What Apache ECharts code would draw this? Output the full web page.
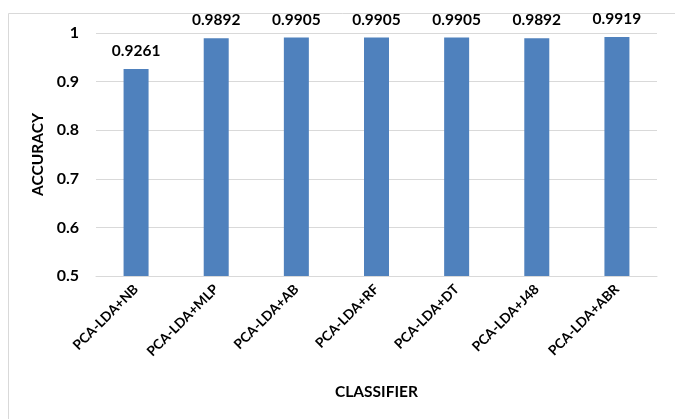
<!DOCTYPE html>
<html>
<head>
<meta charset="utf-8">
<script src="https://cdn.jsdelivr.net/npm/echarts@6/dist/echarts.min.js"></script>
<style>
  html, body { margin: 0; padding: 0; background: #fff; }
  #chart { width: 675px; height: 419px; }
</style>
</head>
<body>
<div id="chart"></div>
<script>
// Classifier accuracy for the PCA-LDA pipelines
const classifiers = ['PCA-LDA+NB', 'PCA-LDA+MLP', 'PCA-LDA+AB', 'PCA-LDA+RF', 'PCA-LDA+DT', 'PCA-LDA+J48', 'PCA-LDA+ABR'];
const accuracy = [0.9261, 0.9892, 0.9905, 0.9905, 0.9905, 0.9892, 0.9919];
const yTicks = [0.5, 0.6, 0.7, 0.8, 0.9, 1];

const FONT = 'Lato, "Open Sans", sans-serif';
const chart = echarts.init(document.getElementById('chart'), null, { renderer: 'canvas' });

chart.setOption({
  animation: false,
  backgroundColor: '#ffffff',
  graphic: [{
    type: 'rect',
    shape: { x: 8.5, y: 13.5, width: 700, height: 440 },
    style: { fill: 'none', stroke: '#d9d9d9', lineWidth: 1 },
    silent: true
  }],
  grid: { left: 96, right: 18, top: 33, bottom: 143, containLabel: false },
  xAxis: {
    type: 'category',
    data: classifiers,
    name: 'CLASSIFIER',
    nameLocation: 'middle',
    nameGap: 108,
    nameTextStyle: { fontFamily: FONT, fontWeight: 'bold', fontSize: 15.5, color: '#000' },
    axisLine: { show: true, lineStyle: { color: '#d9d9d9', width: 1 } },
    axisTick: { show: false },
    axisLabel: {
      rotate: 45, interval: 0, margin: 11,
      fontFamily: FONT, fontWeight: 'bold', fontSize: 13.6, color: '#000'
    }
  },
  yAxis: {
    type: 'value',
    min: yTicks[0],
    max: yTicks[yTicks.length - 1],
    interval: 0.1,
    name: 'ACCURACY',
    nameLocation: 'middle',
    nameGap: 43,
    nameRotate: 90,
    nameTextStyle: { fontFamily: FONT, fontWeight: 'bold', fontSize: 15.5, color: '#000' },
    axisLine: { show: false },
    axisTick: { show: false },
    splitLine: { lineStyle: { color: '#d9d9d9', width: 1 } },
    axisLabel: {
      margin: 17,
      fontFamily: FONT, fontWeight: 'bold', fontSize: 16, color: '#000',
      formatter: v => String(Math.round(v * 10) / 10)
    }
  },
  series: [{
    type: 'bar',
    data: accuracy,
    barWidth: 25,
    itemStyle: { color: '#4f81bd' },
    label: {
      show: true, position: 'top', distance: 10,
      fontFamily: FONT, fontWeight: 'bold', fontSize: 15.5, color: '#000',
      formatter: p => p.value.toFixed(4)
    }
  }]
});
</script>
</body>
</html>
